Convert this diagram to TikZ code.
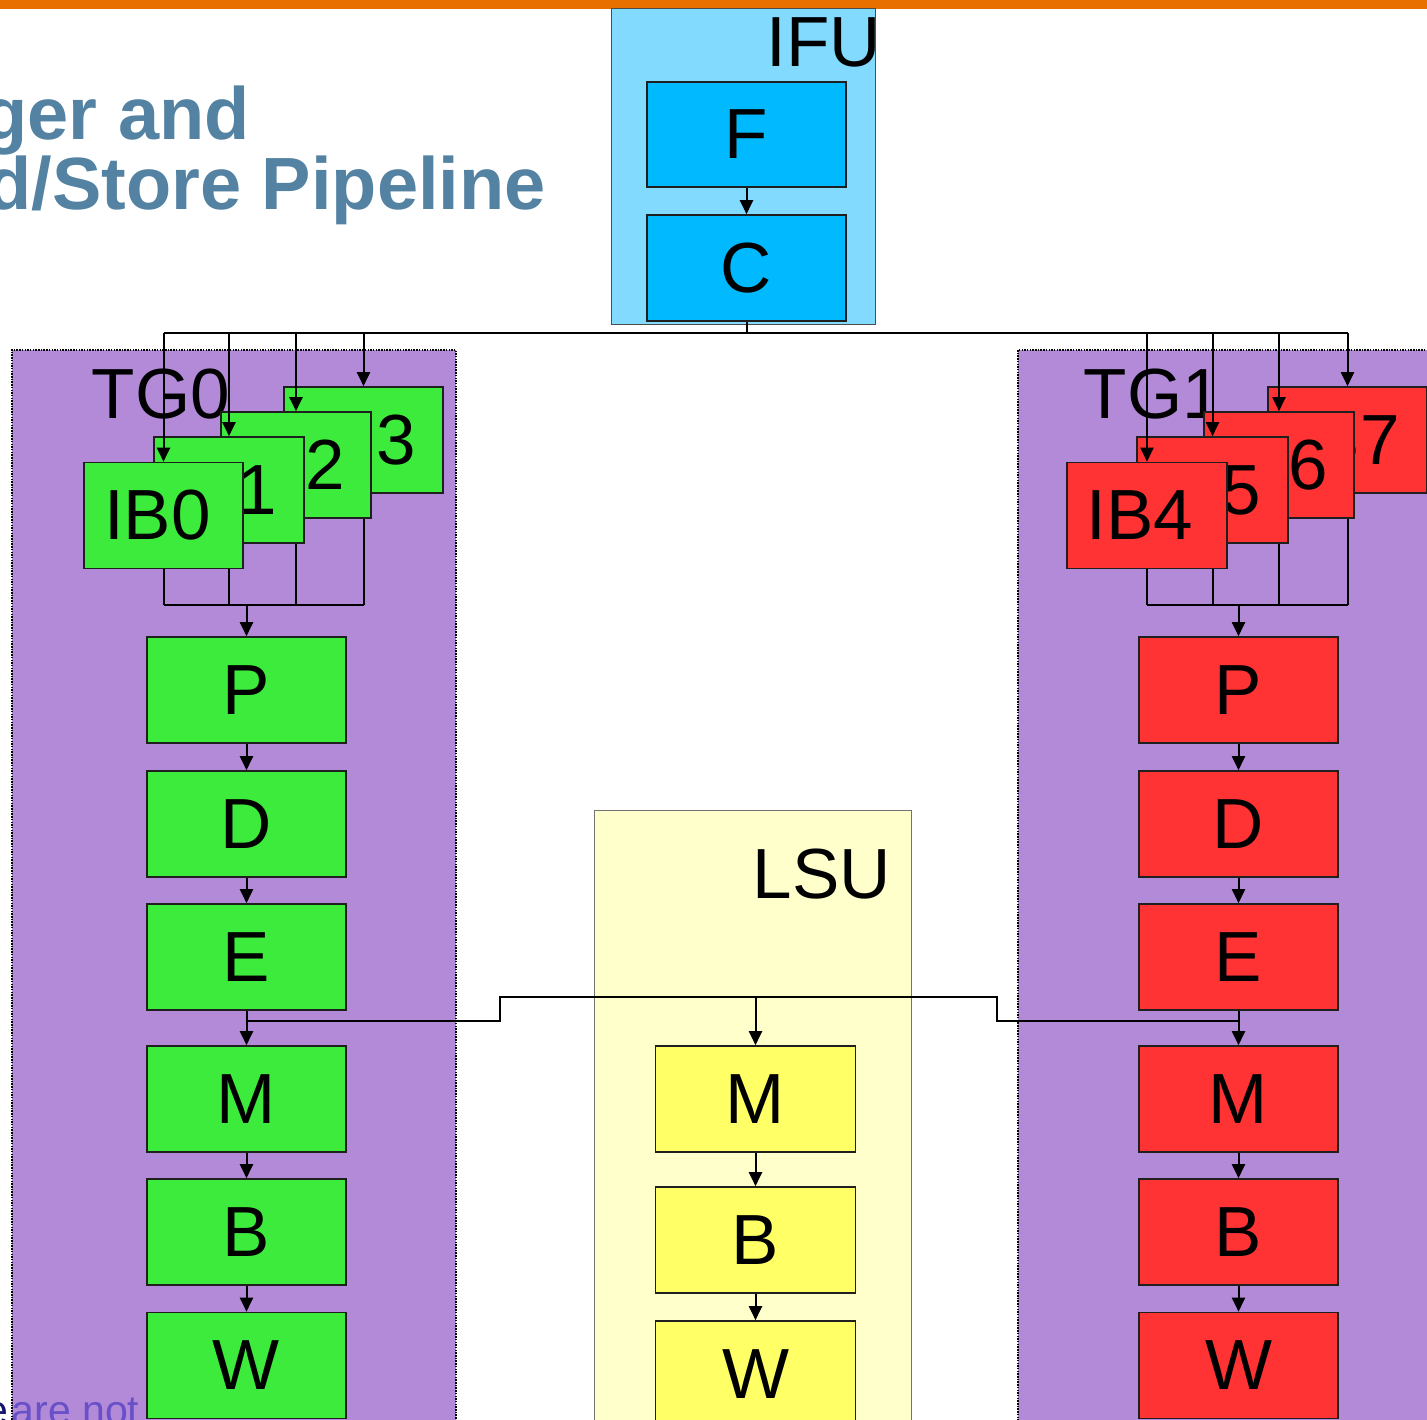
\documentclass[tikz,border=0pt]{standalone}
\usepackage{fontspec}
\setmainfont{Liberation Sans}
\usetikzlibrary{arrows.meta}
\definecolor{orangebar}{RGB}{232,112,0}
\definecolor{titleblue}{RGB}{84,130,162}
\definecolor{ifublue}{RGB}{130,218,255}
\definecolor{stageblue}{RGB}{0,185,255}
\definecolor{tgpurple}{RGB}{178,138,216}
\definecolor{stagegreen}{RGB}{61,235,61}
\definecolor{stagered}{RGB}{255,51,51}
\definecolor{lsuyellow}{RGB}{255,255,204}
\definecolor{stageyellow}{RGB}{255,255,102}
\definecolor{notetext}{RGB}{104,80,200}
\definecolor{navytext}{RGB}{20,20,110}
\begin{document}
\begin{tikzpicture}[x=1pt,y=-1pt,
  lbl/.style={font=\fontsize{71}{71}\selectfont},
  stagebox/.style={draw=black!88,line width=1.6pt,minimum width=199pt,minimum height=106pt,inner sep=0pt,lbl},
  ibbox/.style={draw=black!88,line width=1.6pt,minimum height=106pt,inner sep=0pt},
  conn/.style={line width=2pt,draw=black},
  arr/.style={conn,-{Triangle[length=14pt,width=13pt]}},
  tgbox/.style={fill=tgpurple,draw=black,line width=1.6pt,dash pattern=on 1.5pt off 1.2pt,inner sep=0pt,anchor=north west},
  unitlbl/.style={lbl,inner sep=0pt},
]
\useasboundingbox (0,0) rectangle (1427,1420);
\clip (0,0) rectangle (1427,1420);
\fill[white] (0,0) rectangle (1427,1420);
% top bar
\fill[orangebar] (0,0) rectangle (1427,9);
% title
\node[anchor=base east,inner sep=0pt,text=titleblue,font=\bfseries\fontsize{74}{74}\selectfont] (title1) at (250,140) {ger and};
\node[anchor=base east,inner sep=0pt,text=titleblue,font=\bfseries\fontsize{74}{74}\selectfont] (title2) at (546,210) {d/Store Pipeline};

% IFU
\node[fill=ifublue,draw=black!70,line width=1.2pt,inner sep=0pt,anchor=north west,minimum width=264pt,minimum height=316pt] (IFU) at (611,8) {};
\node[unitlbl,anchor=base east] (IFUlbl) at (881,67) {IFU};
\node[stagebox,fill=stageblue,minimum height=105pt] (F) at (746.5,134.5) {F};
\node[stagebox,fill=stageblue] (C) at (746.5,268) {C};

% containers
\node[tgbox,minimum width=444pt,minimum height=1100pt] (TG0) at (11,349) {};
\node[tgbox,minimum width=430pt,minimum height=1100pt] (TG1) at (1017,349) {};
\node[fill=lsuyellow,draw=black!55,line width=1.4pt,inner sep=0pt,anchor=north west,minimum width=317pt,minimum height=640pt] (LSU) at (594,810) {};

\node[unitlbl,anchor=base west] (TG0lbl) at (91.5,418) {TG0};
\node[unitlbl,anchor=base west] (TG1lbl) at (1083.5,418) {TG1};
\node[unitlbl,anchor=base east] (LSUlbl) at (891,898) {LSU};

% instruction buffers TG0
\node[ibbox,fill=stagegreen,minimum width=159pt,label={[lbl,xshift=-1pt]center:IB3}] (IB3) at (363.5,440) {};
\node[ibbox,fill=stagegreen,minimum width=150pt,label={[lbl,xshift=-4pt]center:IB2}] (IB2) at (296,465) {};
\node[ibbox,fill=stagegreen,minimum width=150pt,label={[lbl,xshift=-5pt]center:IB1}] (IB1) at (229,490) {};
\node[ibbox,fill=stagegreen,minimum width=159pt,label={[lbl,xshift=-6pt]center:IB0}] (IB0) at (163.5,515.5) {};
% instruction buffers TG1
\node[ibbox,fill=stagered,minimum width=159pt,label={[lbl,xshift=-1pt]center:IB7}] (IB7) at (1347.5,440) {};
\node[ibbox,fill=stagered,minimum width=150pt,label={[lbl,xshift=-4pt]center:IB6}] (IB6) at (1279,465) {};
\node[ibbox,fill=stagered,minimum width=151pt,label={[lbl,xshift=-5pt]center:IB5}] (IB5) at (1212.5,490) {};
\node[ibbox,fill=stagered,minimum width=160pt,label={[lbl,xshift=-7pt]center:IB4}] (IB4) at (1147,515.5) {};

% pipeline stages TG0
\node[stagebox,fill=stagegreen] (P0) at (246.5,690) {P};
\node[stagebox,fill=stagegreen] (D0) at (246.5,824) {D};
\node[stagebox,fill=stagegreen] (E0) at (246.5,957) {E};
\node[stagebox,fill=stagegreen] (M0) at (246.5,1099) {M};
\node[stagebox,fill=stagegreen] (B0) at (246.5,1232) {B};
\node[stagebox,fill=stagegreen] (W0) at (246.5,1365.5) {W};
% pipeline stages TG1
\node[stagebox,fill=stagered] (P1) at (1238.5,690) {P};
\node[stagebox,fill=stagered] (D1) at (1238.5,824) {D};
\node[stagebox,fill=stagered] (E1) at (1238.5,957) {E};
\node[stagebox,fill=stagered] (M1) at (1238.5,1099) {M};
\node[stagebox,fill=stagered] (B1) at (1238.5,1232) {B};
\node[stagebox,fill=stagered] (W1) at (1238.5,1365.5) {W};
% LSU stages
\node[stagebox,fill=stageyellow,minimum width=200pt] (LM) at (755.5,1099) {M};
\node[stagebox,fill=stageyellow,minimum width=200pt] (LB) at (755.5,1240) {B};
\node[stagebox,fill=stageyellow,minimum width=200pt] (LW) at (755.5,1374) {W};

% fetch -> buffers
\draw[arr] (F) -- (C);
\coordinate (bus) at (746.5,333);
\draw[conn] (C.south) -- (bus);
\draw[conn,line width=2.4pt] (IB0.north |- bus) -- (IB7.north |- bus);
\foreach \b in {IB0,IB1,IB2,IB3,IB4,IB5,IB6,IB7}
  \draw[arr] (\b.north |- bus) -- (\b.north);

% buffers -> P
\coordinate (j0) at (246.5,605);
\coordinate (j1) at (1238.5,605);
\draw[conn] (IB0.south) -- (IB0.south |- j0);
\draw[conn] (IB1.south |- IB0.south) -- (IB1.south |- j0);
\draw[conn] (IB2.south |- IB1.south) -- (IB2.south |- j0);
\draw[conn] (IB3.south |- IB2.south) -- (IB3.south |- j0);
\draw[conn] (IB0.south |- j0) -- (IB3.south |- j0);
\draw[arr] (j0) -- (P0.north);
\draw[conn] (IB4.south) -- (IB4.south |- j1);
\draw[conn] (IB5.south |- IB4.south) -- (IB5.south |- j1);
\draw[conn] (IB6.south |- IB5.south) -- (IB6.south |- j1);
\draw[conn] (IB7.south |- IB6.south) -- (IB7.south |- j1);
\draw[conn] (IB4.south |- j1) -- (IB7.south |- j1);
\draw[arr] (j1) -- (P1.north);

% pipelines
\draw[arr] (P0) -- (D0);
\draw[arr] (D0) -- (E0);
\draw[arr] (E0) -- (M0);
\draw[arr] (M0) -- (B0);
\draw[arr] (B0) -- (W0);
\draw[arr] (P1) -- (D1);
\draw[arr] (D1) -- (E1);
\draw[arr] (E1) -- (M1);
\draw[arr] (M1) -- (B1);
\draw[arr] (B1) -- (W1);
\draw[arr] (LM) -- (LB);
\draw[arr] (LB) -- (LW);

% E stages -> LSU
\coordinate (k0) at (500,1021);
\coordinate (k1) at (997,1021);
\coordinate (ltop) at (755.5,997);
\draw[conn] (E0.south |- k0) -- (k0) |- (ltop) -| (k1) -- (E1.south |- k1);
\draw[arr] (ltop) -- (LM.north);

% cut-off note text
\node[anchor=base east,inner sep=0pt,text=navytext,font=\fontsize{41}{41}\selectfont] (note0) at (9,1424) {e};
\node[anchor=base west,inner sep=0pt,text=notetext,font=\fontsize{41}{41}\selectfont] (note1) at (11.5,1424) {are not};
\end{tikzpicture}
\end{document}
